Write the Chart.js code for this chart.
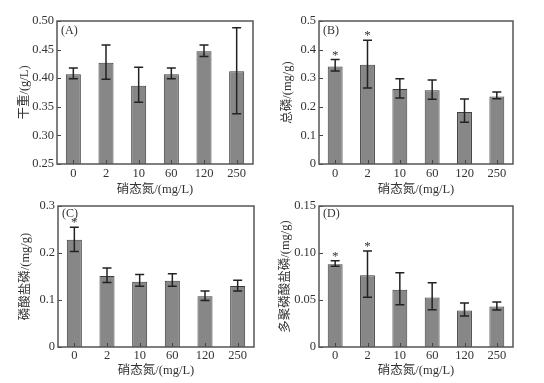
<!DOCTYPE html>
<html>
<head>
<meta charset="utf-8">
<script src="https://cdn.jsdelivr.net/npm/chart.js@4"></script>
<style>
  body { margin: 0; background: #fff; }
  #wrap { position: relative; width: 544px; height: 383px; overflow: hidden; }
  canvas { position: absolute; }
</style>
</head>
<body>
<div id="wrap">
  <canvas id="cA" width="272" height="198" style="left:0;top:0"></canvas>
  <canvas id="cB" width="272" height="198" style="left:272px;top:0"></canvas>
  <canvas id="cC" width="272" height="193" style="left:0;top:190px"></canvas>
  <canvas id="cD" width="272" height="193" style="left:272px;top:190px"></canvas>
</div>
<script>
// ===== data =====
const categories = ['0', '2', '10', '60', '120', '250'];
const xTitle = '硝态氮/(mg/L)';

// (A) dry weight
const dryWeight     = [0.407, 0.427, 0.387, 0.407, 0.447, 0.412];
const dryWeightLow  = [0.399, 0.398, 0.358, 0.399, 0.438, 0.338];
const dryWeightHigh = [0.418, 0.458, 0.419, 0.418, 0.458, 0.488];
const dryWeightStar = [false, false, false, false, false, false];

// (B) total phosphorus
const totalP     = [0.341, 0.347, 0.262, 0.258, 0.182, 0.236];
const totalPLow  = [0.325, 0.266, 0.231, 0.226, 0.146, 0.228];
const totalPHigh = [0.365, 0.433, 0.298, 0.294, 0.227, 0.252];
const totalPStar = [true, true, false, false, false, false];

// (C) phosphate phosphorus
const phosP     = [0.228, 0.151, 0.139, 0.141, 0.108, 0.130];
const phosPLow  = [0.203, 0.137, 0.129, 0.129, 0.099, 0.119];
const phosPHigh = [0.255, 0.168, 0.154, 0.156, 0.119, 0.142];
const phosPStar = [true, false, false, false, false, false];

// (D) polyphosphate phosphorus
const polyP     = [0.0881, 0.0764, 0.0609, 0.0527, 0.0389, 0.0432];
const polyPLow  = [0.0860, 0.0530, 0.0450, 0.0396, 0.0329, 0.0393];
const polyPHigh = [0.0917, 0.1020, 0.0789, 0.0683, 0.0467, 0.0480];
const polyPStar = [true, true, false, false, false, false];

const FONT = "'Liberation Serif', 'Noto Sans CJK SC', serif";
const TXT = '#333';

// ===== error bars, frame, inside ticks, panel label =====
const decorPlugin = {
  id: 'decor',
  afterDatasetsDraw(chart, args, opts) {
    const ctx = chart.ctx;
    const a = chart.chartArea;
    const xs = chart.scales.x, ys = chart.scales.y;
    ctx.save();
    // inside ticks
    ctx.strokeStyle = '#444';
    ctx.lineWidth = 1;
    ys.ticks.forEach(t => {
      const y = Math.round(ys.getPixelForValue(t.value)) + 0.5;
      ctx.beginPath(); ctx.moveTo(a.left, y); ctx.lineTo(a.left + 4, y); ctx.stroke();
    });
    categories.forEach((c, i) => {
      const x = Math.round(xs.getPixelForValue(i)) + 0.5;
      ctx.beginPath(); ctx.moveTo(x, a.bottom); ctx.lineTo(x, a.bottom - 4); ctx.stroke();
    });
    // error bars
    ctx.strokeStyle = '#222';
    ctx.lineWidth = 1.5;
    opts.low.forEach((lo, i) => {
      const x = xs.getPixelForValue(i);
      const y1 = ys.getPixelForValue(lo);
      const y2 = ys.getPixelForValue(opts.high[i]);
      ctx.beginPath();
      ctx.moveTo(x, y1); ctx.lineTo(x, y2);
      ctx.moveTo(x - 4.5, y1); ctx.lineTo(x + 4.5, y1);
      ctx.moveTo(x - 4.5, y2); ctx.lineTo(x + 4.5, y2);
      ctx.stroke();
      if (opts.star[i]) {
        ctx.fillStyle = TXT;
        ctx.font = '13px ' + FONT;
        ctx.textAlign = 'center';
        ctx.textBaseline = 'alphabetic';
        ctx.fillText('*', x, y2 - 1);
      }
    });
    // frame
    ctx.strokeStyle = '#555';
    ctx.lineWidth = 1.5;
    ctx.strokeRect(a.left, a.top, a.right - a.left, a.bottom - a.top);
    // panel label
    ctx.fillStyle = TXT;
    ctx.font = '12px ' + FONT;
    ctx.textAlign = 'left';
    ctx.textBaseline = 'middle';
    ctx.fillText(opts.label, a.left + 4, a.top + opts.labelDy);
    ctx.restore();
  }
};

function makePanel(id, cfg) {
  return new Chart(document.getElementById(id), {
    type: 'bar',
    data: {
      labels: categories,
      datasets: [{
        data: cfg.values,
        backgroundColor: '#878787',
        borderColor: '#3c3c3c',
        borderWidth: 1,
        categoryPercentage: 1,
        barPercentage: 0.46
      }]
    },
    plugins: [decorPlugin],
    options: {
      responsive: false,
      animation: false,
      devicePixelRatio: 1,
      layout: { padding: { left: 0, top: cfg.padTop, right: cfg.padRight, bottom: 0 } },
      plugins: {
        legend: { display: false },
        tooltip: { enabled: false },
        decor: { low: cfg.low, high: cfg.high, star: cfg.star, label: cfg.label, labelDy: cfg.labelDy }
      },
      scales: {
        x: {
          grid: { display: false, drawTicks: false },
          border: { display: false },
          ticks: { color: TXT, font: { family: FONT, size: 12.5 }, padding: cfg.xTickPad, maxRotation: 0 },
          title: { display: true, text: xTitle, color: TXT, font: { family: FONT, size: 12.5 }, padding: { top: 0, bottom: cfg.xTitlePad } },
          afterFit: s => { s.height = cfg.xHeight; }
        },
        y: {
          min: cfg.min, max: cfg.max,
          grid: { display: false, drawTicks: false },
          border: { display: false },
          ticks: {
            stepSize: cfg.step,
            color: TXT,
            font: { family: FONT, size: 12.5 },
            padding: 3,
            callback: v => (Math.abs(v) < 1e-9 ? '0' : v.toFixed(cfg.dec))
          },
          title: { display: true, text: cfg.yTitle, color: TXT, font: { family: FONT, size: 12.5 }, padding: { top: cfg.yTitlePad, bottom: 0 } },
          afterFit: s => { s.width = cfg.yWidth; }
        }
      }
    }
  });
}

makePanel('cA', {
  values: dryWeight, low: dryWeightLow, high: dryWeightHigh, star: dryWeightStar,
  label: '(A)', labelDy: 10, yTitle: '干重/(g/L)',
  min: 0.25, max: 0.5, step: 0.05, dec: 2,
  padTop: 21, padRight: 19, yWidth: 57, xHeight: 34, yTitlePad: 17, xTitlePad: 1, xTickPad: 2
});
makePanel('cB', {
  values: totalP, low: totalPLow, high: totalPHigh, star: totalPStar,
  label: '(B)', labelDy: 10, yTitle: '总磷/(mg/g)',
  min: 0, max: 0.5, step: 0.1, dec: 1,
  padTop: 21, padRight: 31, yWidth: 47, xHeight: 34, yTitlePad: 8, xTitlePad: 1, xTickPad: 2
});
makePanel('cC', {
  values: phosP, low: phosPLow, high: phosPHigh, star: phosPStar,
  label: '(C)', labelDy: 8, yTitle: '磷酸盐磷/(mg/g)',
  min: 0, max: 0.3, step: 0.1, dec: 1,
  padTop: 16, padRight: 18, yWidth: 58, xHeight: 36, yTitlePad: 18, xTitlePad: 5, xTickPad: 1
});
makePanel('cD', {
  values: polyP, low: polyPLow, high: polyPHigh, star: polyPStar,
  label: '(D)', labelDy: 8, yTitle: '多聚磷酸盐磷/(mg/g)',
  min: 0, max: 0.15, step: 0.05, dec: 2,
  padTop: 16, padRight: 31, yWidth: 47, xHeight: 36, yTitlePad: 6, xTitlePad: 5, xTickPad: 1
});
</script>
</body>
</html>
